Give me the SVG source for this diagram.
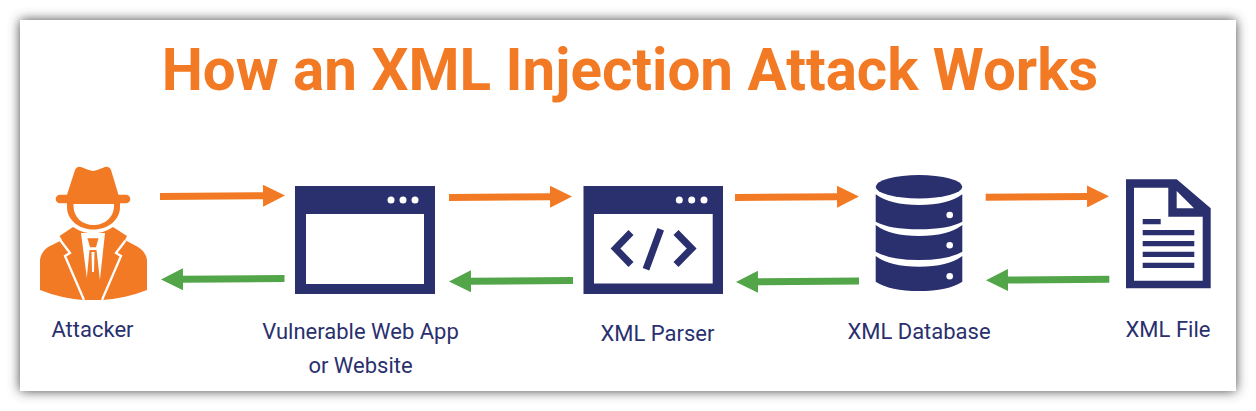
<svg xmlns="http://www.w3.org/2000/svg" width="1256" height="411" viewBox="0 0 1256 411">
<style>
.lbl{font-family:Roboto,"Liberation Sans",sans-serif;font-size:22px;fill:#2a306e;text-anchor:middle}
.navy{fill:#2a306e}.org{fill:#f37a24}.w{fill:#fff}
.out{stroke:#f37a24;stroke-width:7;fill:none;marker-end:url(#ao)}
.back{stroke:#52a548;stroke-width:7;fill:none;marker-end:url(#ag)}
</style>
<defs>
<filter id="sh" x="-5%" y="-15%" width="110%" height="130%"><feGaussianBlur stdDeviation="6"/></filter>
<marker id="ao" markerUnits="userSpaceOnUse" markerWidth="22" markerHeight="22" refX="1" refY="11" orient="auto"><path d="M0,0L22,11L0,22Z" fill="#f37a24"/></marker>
<marker id="ag" markerUnits="userSpaceOnUse" markerWidth="22" markerHeight="22" refX="1" refY="11" orient="auto"><path d="M0,0L22,11L0,22Z" fill="#52a548"/></marker>
</defs>
<rect width="1256" height="411" fill="#fff"/>
<rect x="20" y="20" width="1216" height="371" fill="#444" filter="url(#sh)"/>
<rect x="20" y="20" width="1216" height="371" fill="#fff"/>
<text id="title" x="630" y="89.500" text-anchor="middle" font-family="Roboto,'Liberation Sans',sans-serif" font-weight="700" font-size="58.300" fill="#f37a24">How an XML Injection Attack Works</text>
<g id="connectors">
<path class="out" d="M160,196.500L264,195.700"/>
<path class="back" d="M284.500,278.500L182,279.300"/>
<path class="out" d="M449,197.500L551,196.700"/>
<path class="back" d="M573,280.500L470,281.300"/>
<path class="out" d="M735,197.500L838,196.700"/>
<path class="back" d="M859,281L757,281.800"/>
<path class="out" d="M985.700,197.300L1088,196.500"/>
<path class="back" d="M1109.300,279.300L1007,280"/>
</g>
<g id="attacker">
<path class="org" d="M60,194.700L67,194.700L75,170Q77,166 81,167Q88,170 93,171Q98,170 105,167Q109,166 111,170L118.500,194.700L126,194.700A4.300,4.300 0 0 1 126,203.300H120V207C120,220 108,229.500 93.500,229.500C79,229.500 67,220 67,207V203.300H60A4.300,4.300 0 0 1 60,194.700Z"/>
<path class="w" d="M73.500,204H114V206C114,217 105,225 93.500,225C82,225 73.500,217 73.500,206Z"/>
<path class="org" d="M40,260Q41,252 48,247L62,240L59.500,236L73,227Q93,240 113,227L127,236L125,240L138,247Q146,252 147,260V290Q127,298 103,300H83Q60,298 40,290Z"/>
<path d="M60.500,240.500L70,253L65,256L84,300M125.500,240.500L116,253L121,256L102,300" fill="none" stroke="#fff" stroke-width="2.300"/>
<path class="w" d="M81,233H105L100,279H87Z"/>
<path class="org" d="M87.500,238.300H98.500L96,247.300H90ZM89.500,250H96.500L100,281H86.500Z"/>
<path class="w" d="M91.500,252H94.500L94,272H92Z"/>
</g>
<text class="lbl" x="92.500" y="336.500" id="attacker-label">Attacker</text>
<g id="webapp">
<rect class="navy" x="295" y="186" width="140" height="108"/>
<rect class="w" x="306" y="214" width="118" height="70"/>
<circle class="w" cx="391" cy="200" r="3.500"/><circle class="w" cx="403" cy="200" r="3.500"/><circle class="w" cx="415" cy="200" r="3.500"/>
<text class="lbl" x="360.500" y="339">Vulnerable Web App</text>
<text class="lbl" x="360.500" y="373.300">or Website</text>
</g>
<g id="parser">
<rect class="navy" x="583.500" y="186" width="139.500" height="108"/>
<rect class="w" x="594" y="214" width="118.700" height="69.500"/>
<circle class="w" cx="679.300" cy="200" r="3.500"/><circle class="w" cx="691.700" cy="200" r="3.500"/><circle class="w" cx="704" cy="200" r="3.500"/>
<path d="M631,232.500L615.500,248.500L631,264.500M676,232.500L691.700,248.500L676,264.500M660.700,229.300L646,269.300" fill="none" stroke="#2a306e" stroke-width="7"/>
<text class="lbl" x="657.500" y="341">XML Parser</text>
</g>
<g id="database">
<ellipse class="navy" cx="919" cy="186.700" rx="43.300" ry="11.700"/>
<path class="navy" d="M875.700,194.300Q890,205 919,205Q948,205 962.300,194.300V221.700Q948,229.300 919,229.300Q890,229.300 875.700,221.700ZM875.700,225Q890,236 919,236Q948,236 962.300,225V251.700Q948,260 919,260Q890,260 875.700,251.700ZM875.700,256Q890,266.700 919,266.700Q948,266.700 962.300,256V281.700Q948,291 919,291Q890,291 875.700,281.700Z"/>
<circle class="w" cx="949.700" cy="215" r="3.300"/><circle class="w" cx="949.700" cy="245.300" r="3.300"/><circle class="w" cx="949.700" cy="276.300" r="3.300"/>
<text class="lbl" x="919" y="339">XML Database</text>
</g>
<g id="file">
<path class="navy" fill-rule="evenodd" d="M1126,179.300H1176.700L1210.700,208.300V288.300H1126ZM1134,187.700V280.700H1202.700V216.700H1168.300V187.700Z"/>
<path class="w" d="M1176.700,191V208.300H1194Z"/>
<path class="navy" d="M1142.700,219H1160.700V224.300H1142.700ZM1142.700,230H1194.300V235.300H1142.700ZM1142.700,241H1194.300V246.300H1142.700ZM1142.700,251.700H1194.300V257H1142.700ZM1142.700,262.700H1194.300V268H1142.700Z"/>
<text class="lbl" x="1168" y="337">XML File</text>
</g>
</svg>
